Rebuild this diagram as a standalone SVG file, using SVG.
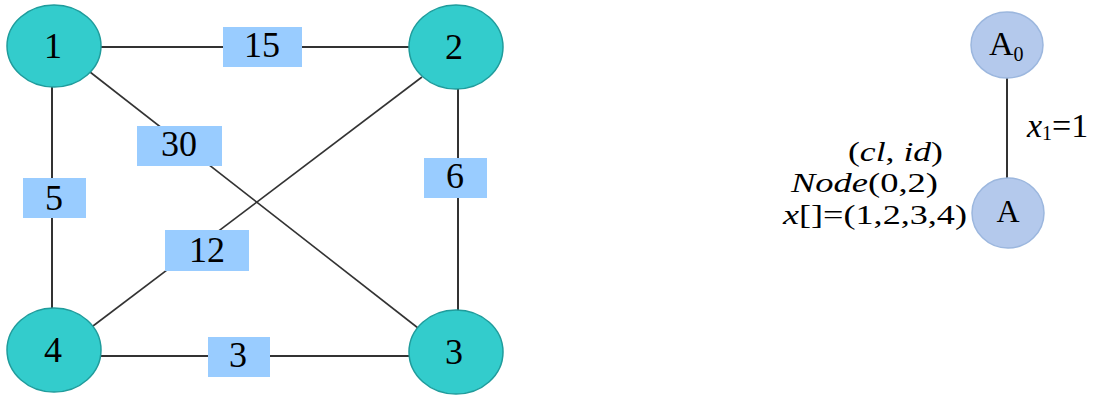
<svg xmlns="http://www.w3.org/2000/svg" width="1110" height="406" viewBox="0 0 1110 406">
<style>
text{font-family:'Liberation Serif','DejaVu Serif','Times New Roman',serif;fill:#000}
.n{fill:#33CCCC;stroke:#1F9C9C;stroke-width:1.5}
.b{fill:#B4C9EC;stroke:#9CB7DE;stroke-width:1.5}
.lb{fill:#99CCFF}
.e{stroke:#333;stroke-width:2;fill:none}
.d{stroke:#333;stroke-width:1.6;fill:none}
.t{font-size:36px;text-anchor:middle}
.r{font-size:28px}
.i{font-style:italic}
</style>
<g id="connectors">
<line class="e" x1="101" y1="47" x2="409" y2="47"/>
<line class="e" x1="52" y1="87" x2="52" y2="308"/>
<line class="e" x1="458" y1="89" x2="458" y2="311"/>
<line class="e" x1="101" y1="356" x2="409" y2="356"/>
<line class="d" x1="90" y1="72" x2="418" y2="328"/>
<line class="d" x1="422" y1="77" x2="93" y2="326"/>
<line class="e" x1="1007" y1="77" x2="1007" y2="178"/>
</g>
<g id="edge-labels">
<rect class="lb" x="223" y="27" width="79" height="40"/><text class="t" x="262" y="57">15</text>
<rect class="lb" x="23" y="178" width="63" height="40"/><text class="t" x="54" y="210">5</text>
<rect class="lb" x="424" y="158" width="63" height="40"/><text class="t" x="455" y="188">6</text>
<rect class="lb" x="208" y="337" width="62" height="40"/><text class="t" x="238" y="367">3</text>
<rect class="lb" x="137" y="126" width="85" height="40"/><text class="t" x="179" y="156">30</text>
<rect class="lb" x="165" y="230" width="84" height="41"/><text class="t" x="207" y="262">12</text>
</g>
<g id="node1"><ellipse class="n" cx="54" cy="46" rx="47" ry="41"/><text class="t" x="53" y="58">1</text></g>
<g id="node2"><ellipse class="n" cx="456" cy="47" rx="47" ry="42"/><text class="t" x="454" y="59">2</text></g>
<g id="node3"><ellipse class="n" cx="456" cy="352" rx="47" ry="42"/><text class="t" x="454" y="364">3</text></g>
<g id="node4"><ellipse class="n" cx="54" cy="350" rx="47" ry="42"/><text class="t" x="53" y="362">4</text></g>
<g id="nodeA0"><ellipse class="b" cx="1007" cy="45" rx="36" ry="33"/><text x="989" y="55" style="font-size:34px">A<tspan style="font-size:20px" dy="6">0</tspan></text></g>
<g id="nodeA"><ellipse class="b" cx="1008" cy="213" rx="36" ry="35"/><text x="1008" y="222" style="font-size:32px;text-anchor:middle">A</text></g>
<g id="labels">
<text x="1027" y="137" style="font-size:34px"><tspan class="i">x</tspan><tspan style="font-size:20px" dy="3">1</tspan><tspan dy="-3">=1</tspan></text>
<text x="848" y="161" class="r" textLength="95" lengthAdjust="spacingAndGlyphs">(<tspan class="i">cl</tspan>, <tspan class="i">id</tspan>)</text>
<text x="791" y="192" class="r" textLength="147" lengthAdjust="spacingAndGlyphs"><tspan class="i">Node</tspan>(0,2)</text>
<text x="783" y="224" class="r" textLength="184" lengthAdjust="spacingAndGlyphs"><tspan class="i">x</tspan>[]=(1,2,3,4)</text>
</g>
</svg>
